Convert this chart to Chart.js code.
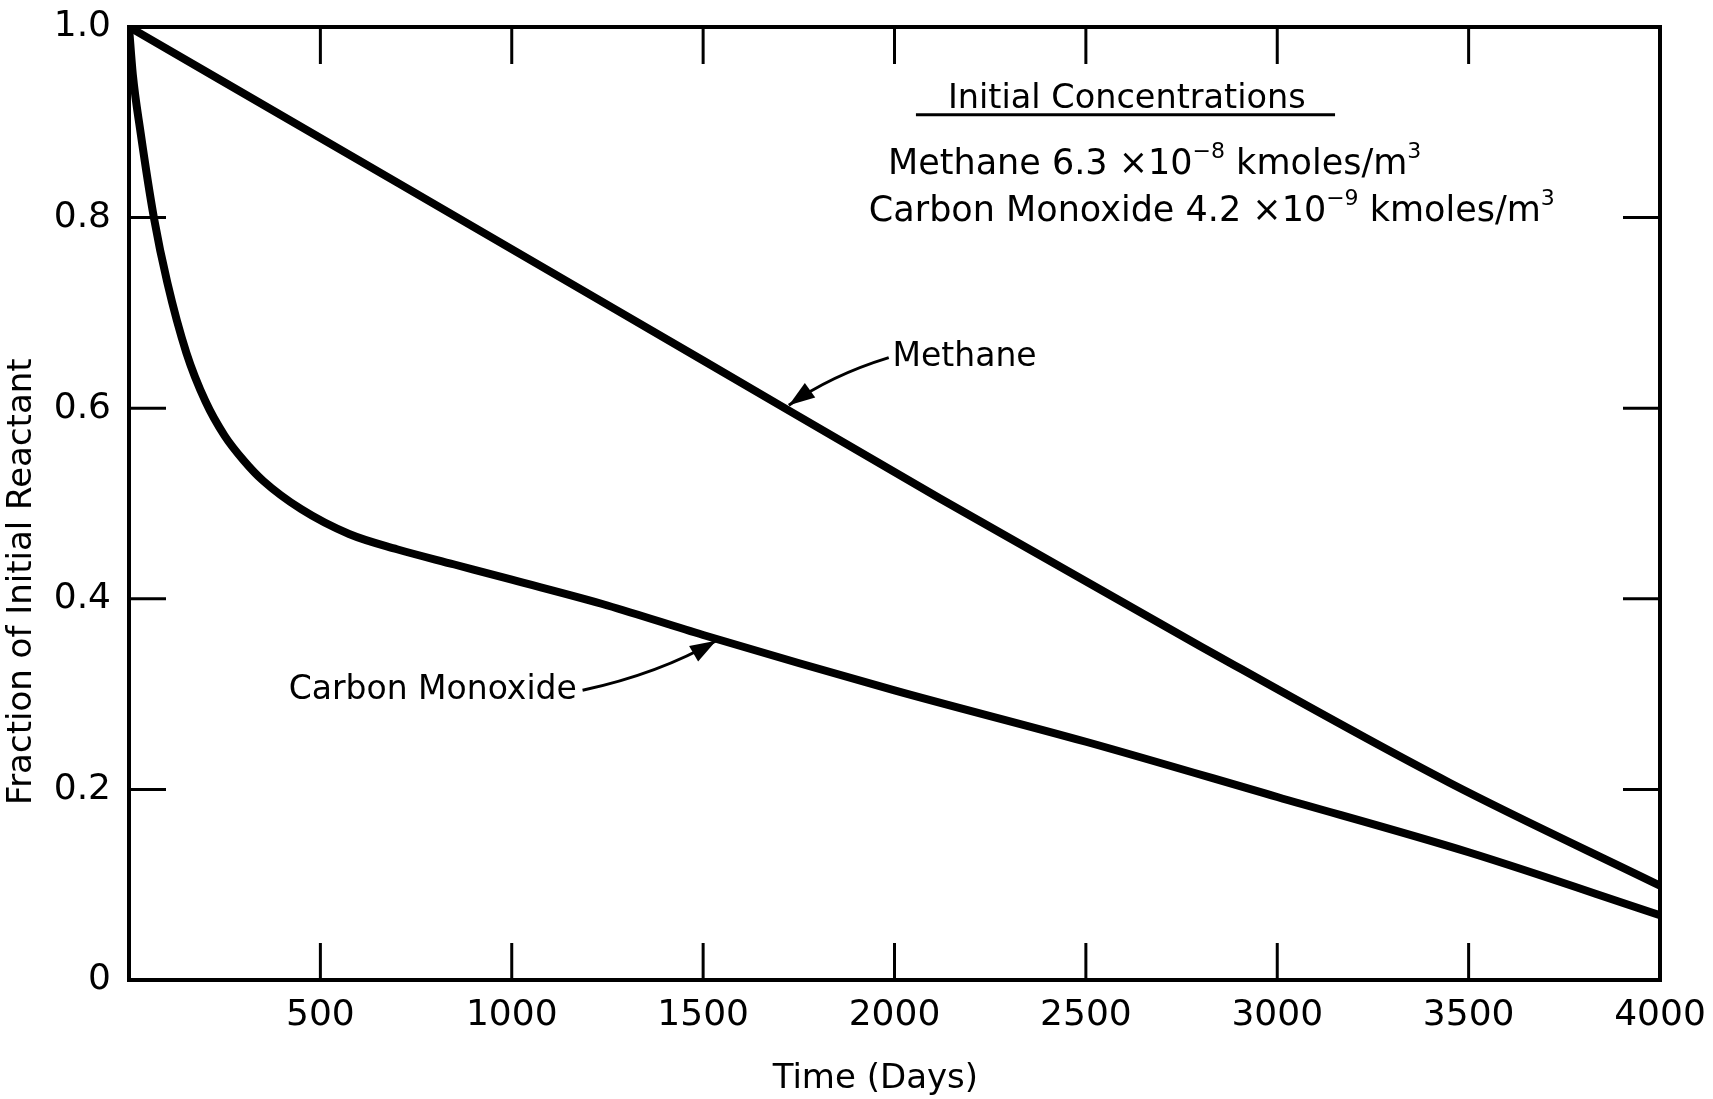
<!DOCTYPE html>
<html>
<head>
<meta charset="utf-8">
<script src="https://cdn.jsdelivr.net/npm/chart.js@4.4.1/dist/chart.umd.min.js"></script>
<style>
  html, body { margin: 0; padding: 0; background: #fff; }
  #wrap { width: 1713px; height: 1099px; }
</style>
</head>
<body>
<div id="wrap"><canvas id="c" width="1713" height="1099"></canvas></div>
<script>
// ---------- data ----------
const xTickValues = [0, 500, 1000, 1500, 2000, 2500, 3000, 3500, 4000];
const yTickValues = [0, 0.2, 0.4, 0.6, 0.8, 1.0];

const methaneDays     = [0, 700, 1500, 2120, 2800, 3450, 4000];
const methaneFraction = [1.0, 0.837, 0.650, 0.505, 0.350, 0.207, 0.099];

const coDays     = [0, 10, 30, 65, 100, 150, 200, 250, 300, 350, 450, 575, 700, 850, 1000, 1250, 1500, 2000, 2500, 3000, 3500, 4000];
const coFraction = [1.0, 0.95, 0.89, 0.80, 0.732, 0.658, 0.607, 0.571, 0.545, 0.524, 0.494, 0.468, 0.452, 0.436, 0.420, 0.393, 0.362, 0.304, 0.250, 0.192, 0.134, 0.068];

const xTitle = 'Time (Days)';
const yTitle = 'Fraction of Initial Reactant';
const headerTitle = 'Initial Concentrations';
const methaneConcParts = [['Methane 6.3 ×10', false], ['−8', true], [' kmoles/m', false], ['3', true]];
const coConcParts      = [['Carbon Monoxide 4.2 ×10', false], ['−9', true], [' kmoles/m', false], ['3', true]];
const methaneLabel = 'Methane';
const coLabel = 'Carbon Monoxide';

// annotation anchors in data units [days, fraction]
const headerAnchor      = [2607, 0.924];
const headerRule        = [[2056, 0.908], [3151, 0.908]];
const methaneConcAnchor = [1983, 0.859];
const coConcAnchor      = [1933, 0.810];
const methaneLabelAt    = [1995, 0.653];
const methaneArrowFrom  = [1985, 0.653];
const methaneArrowTip   = [1724, 0.603];
const coLabelEnd        = [1170, 0.304];
const coArrowFrom       = [1185, 0.304];
const coArrowTip        = [1534, 0.356];

const FONT = '"DejaVu Sans", sans-serif';

function toXY(xs, ys) { return xs.map((d, i) => ({ x: d, y: ys[i] })); }

function drawRich(ctx, parts, x, yMid, size) {
  let cx = x;
  const base = yMid + size * 0.36;
  ctx.textAlign = 'left';
  ctx.textBaseline = 'alphabetic';
  parts.forEach(([t, sup]) => {
    const s = sup ? Math.round(size * 0.62) : size;
    ctx.font = s + 'px ' + FONT;
    ctx.fillText(t, cx, sup ? base - size * 0.45 : base);
    cx += ctx.measureText(t).width;
  });
}

function arrow(ctx, x0, y0, cxp, cyp, x1, y1) {
  ctx.lineWidth = 3;
  ctx.beginPath();
  ctx.moveTo(x0, y0);
  ctx.quadraticCurveTo(cxp, cyp, x1, y1);
  ctx.stroke();
  const ang = Math.atan2(y1 - cyp, x1 - cxp);
  const L = 26, W = 9;
  ctx.beginPath();
  ctx.moveTo(x1, y1);
  ctx.lineTo(x1 - L * Math.cos(ang) + W * Math.sin(ang), y1 - L * Math.sin(ang) - W * Math.cos(ang));
  ctx.lineTo(x1 - L * Math.cos(ang) - W * Math.sin(ang), y1 - L * Math.sin(ang) + W * Math.cos(ang));
  ctx.closePath();
  ctx.fill();
}

const decorate = {
  id: 'decorate',
  afterDraw(chart) {
    const { ctx, chartArea: a, scales: { x, y } } = chart;
    const px = v => x.getPixelForValue(v);
    const py = v => y.getPixelForValue(v);
    ctx.save();
    ctx.strokeStyle = '#000';
    ctx.fillStyle = '#000';
    ctx.lineCap = 'butt';

    // top and right frame
    ctx.lineWidth = 4;
    ctx.beginPath();
    ctx.moveTo(a.left - 2, a.top);
    ctx.lineTo(a.right, a.top);
    ctx.lineTo(a.right, a.bottom + 2);
    ctx.stroke();

    // inward tick marks on all four sides
    const TL = 37;
    ctx.lineWidth = 3;
    xTickValues.forEach(v => {
      if (v <= x.min || v >= x.max) return;
      const X = px(v);
      ctx.beginPath(); ctx.moveTo(X, a.bottom); ctx.lineTo(X, a.bottom - TL); ctx.stroke();
      ctx.beginPath(); ctx.moveTo(X, a.top); ctx.lineTo(X, a.top + TL); ctx.stroke();
    });
    yTickValues.forEach(v => {
      if (v <= y.min || v >= y.max) return;
      const Y = py(v);
      ctx.beginPath(); ctx.moveTo(a.left, Y); ctx.lineTo(a.left + TL, Y); ctx.stroke();
      ctx.beginPath(); ctx.moveTo(a.right, Y); ctx.lineTo(a.right - TL, Y); ctx.stroke();
    });

    // axis titles
    ctx.font = '34px ' + FONT;
    ctx.textAlign = 'center';
    ctx.textBaseline = 'middle';
    ctx.fillText(xTitle, px(1950), 1079);
    ctx.save();
    ctx.translate(22, py(0.418));
    ctx.rotate(-Math.PI / 2);
    ctx.fillText(yTitle, 0, 0);
    ctx.restore();

    // header block
    ctx.font = '33.5px ' + FONT;
    ctx.textAlign = 'center';
    ctx.textBaseline = 'middle';
    ctx.fillText(headerTitle, px(headerAnchor[0]), py(headerAnchor[1]));
    ctx.lineWidth = 3;
    ctx.beginPath();
    ctx.moveTo(px(headerRule[0][0]), py(headerRule[0][1]));
    ctx.lineTo(px(headerRule[1][0]), py(headerRule[1][1]));
    ctx.stroke();
    drawRich(ctx, methaneConcParts, px(methaneConcAnchor[0]), py(methaneConcAnchor[1]), 35);
    drawRich(ctx, coConcParts, px(coConcAnchor[0]), py(coConcAnchor[1]), 35);

    // curve labels
    ctx.font = '33px ' + FONT;
    ctx.textBaseline = 'middle';
    ctx.textAlign = 'left';
    ctx.fillText(methaneLabel, px(methaneLabelAt[0]), py(methaneLabelAt[1]));
    ctx.textAlign = 'right';
    ctx.fillText(coLabel, px(coLabelEnd[0]), py(coLabelEnd[1]));

    // arrows
    {
      const x0 = px(methaneArrowFrom[0]), y0 = py(methaneArrowFrom[1]);
      const x1 = px(methaneArrowTip[0]), y1 = py(methaneArrowTip[1]);
      arrow(ctx, x0, y0, (x0 + x1) / 2 - 8, (y0 + y1) / 2 - 6, x1, y1);
    }
    {
      const x0 = px(coArrowFrom[0]), y0 = py(coArrowFrom[1]);
      const x1 = px(coArrowTip[0]), y1 = py(coArrowTip[1]);
      arrow(ctx, x0, y0, (x0 + x1) / 2 + 10, (y0 + y1) / 2 + 8, x1, y1);
    }
    ctx.restore();
  }
};

Chart.defaults.font.family = FONT;
Chart.defaults.color = '#000';

new Chart(document.getElementById('c'), {
  type: 'line',
  data: {
    datasets: [
      {
        label: 'Methane',
        data: toXY(methaneDays, methaneFraction),
        borderColor: '#000',
        borderWidth: 8,
        pointRadius: 0,
        fill: false,
        cubicInterpolationMode: 'monotone',
        borderCapStyle: 'round',
        borderJoinStyle: 'round'
      },
      {
        label: 'Carbon Monoxide',
        data: toXY(coDays, coFraction),
        borderColor: '#000',
        borderWidth: 8,
        pointRadius: 0,
        fill: false,
        cubicInterpolationMode: 'monotone',
        borderCapStyle: 'round',
        borderJoinStyle: 'round'
      }
    ]
  },
  options: {
    responsive: false,
    animation: false,
    devicePixelRatio: 1,
    layout: { padding: { top: 27, right: 53, left: 0, bottom: 0 } },
    plugins: { legend: { display: false }, tooltip: { enabled: false } },
    scales: {
      x: {
        type: 'linear',
        min: 0,
        max: 4000,
        afterBuildTicks: s => { s.ticks = xTickValues.map(v => ({ value: v })); },
        afterFit: s => { s.height = 119; s.paddingLeft = 0; s.paddingRight = 0; },
        grid: { display: false, drawTicks: false },
        border: { display: true, width: 4, color: '#000' },
        ticks: {
          padding: 14,
          font: { size: 36 },
          color: '#000',
          maxRotation: 0,
          autoSkip: false,
          callback: v => (v === 0 ? '' : String(v))
        }
      },
      y: {
        type: 'linear',
        min: 0,
        max: 1,
        afterBuildTicks: s => { s.ticks = yTickValues.map(v => ({ value: v })); },
        afterFit: s => { s.width = 129; s.paddingTop = 0; s.paddingBottom = 0; },
        grid: { display: false, drawTicks: false },
        border: { display: true, width: 4, color: '#000' },
        ticks: {
          padding: 18,
          font: { size: 36 },
          color: '#000',
          autoSkip: false,
          callback: v => (v === 0 ? '0' : (Math.round(v * 10) / 10).toFixed(1))
        }
      }
    }
  },
  plugins: [decorate]
});
</script>
</body>
</html>
